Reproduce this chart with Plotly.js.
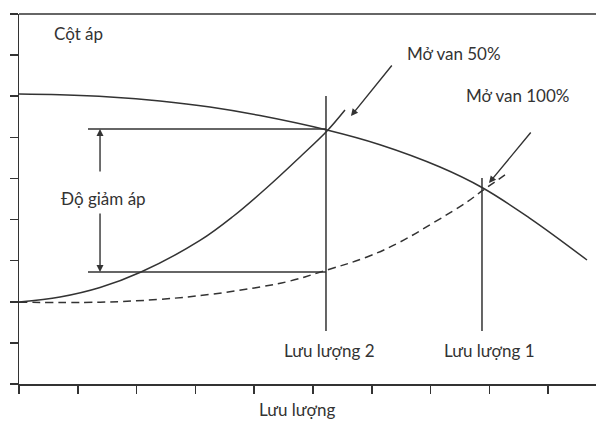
<!DOCTYPE html>
<html>
<head>
<meta charset="utf-8">
<script src="https://cdn.plot.ly/plotly-3.0.1.min.js"></script>
<style>html,body{margin:0;padding:0;background:#fff;overflow:hidden}#chart{width:596px;height:422px}</style>
</head>
<body>
<div id="chart"></div>
<script>
// Pump curve (head vs flow)
const pumpX = [0, 0.697, 1.548, 2.398, 3.248, 4.099, 5.238, 6.139, 7.160, 7.874, 8.690, 9.660];
const pumpY = [7.054, 7.035, 6.981, 6.884, 6.738, 6.530, 6.178, 5.820, 5.278, 4.780, 4.030, 3.016];
// System curve, valve 50% open
const valve50X = [0, 0.697, 1.378, 2.075, 3.078, 3.639, 4.218, 4.779, 5.238, 5.544];
const valve50Y = [1.995, 2.116, 2.347, 2.724, 3.491, 4.074, 4.780, 5.522, 6.154, 6.665];
// System curve, valve 100% open
const valve100X = [0, 1.378, 2.398, 3.248, 4.099, 4.609, 5.238, 5.918, 6.480, 7.041, 7.619, 7.874, 8.265];
const valve100Y = [1.990, 1.990, 2.060, 2.180, 2.360, 2.505, 2.773, 3.089, 3.454, 3.916, 4.427, 4.695, 5.084];
// Operating points
const flow2 = 5.221, flow1 = 7.874;
const headHigh = 6.203, headLow = 2.724;
// Tick positions
const xTicks = [0,1,2,3,4,5,6,7,8,9];
const yTicks = [0,1,2,3,4,5,6,7,8,9];
// Labels
const yLabel = "Cột áp";
const xLabel = "Lưu lượng";
const label50 = "Mở van 50%";
const label100 = "Mở van 100%";
const labelFlow2 = "Lưu lượng 2";
const labelFlow1 = "Lưu lượng 1";
const labelDrop = "Độ giảm áp";

const C = '#333333';
const F = {family: 'Lato, sans-serif', size: 17, color: '#333333'};

const traces = [
  {x: pumpX, y: pumpY, mode: 'lines', line: {color: C, width: 1.5, shape: 'spline', smoothing: 1.1}, hoverinfo: 'skip'},
  {x: valve50X, y: valve50Y, mode: 'lines', line: {color: C, width: 1.5, shape: 'spline', smoothing: 1}, hoverinfo: 'skip'},
  {x: valve100X, y: valve100Y, mode: 'lines', line: {color: C, width: 1.5, dash: '8px,5px', shape: 'spline', smoothing: 1.1}, hoverinfo: 'skip'}
];

const ln = {color: C, width: 1.5};
const shapes = [
  {type: 'line', xref: 'paper', yref: 'paper', x0: 0, x1: 1, y0: 1, y1: 1, line: ln},
  {type: 'line', xref: 'x', yref: 'y', x0: flow2, x1: flow2, y0: 1.289, y1: 7.006, line: ln},
  {type: 'line', xref: 'x', yref: 'y', x0: flow1, x1: flow1, y0: 1.289, y1: 5.011, line: ln},
  {type: 'line', xref: 'x', yref: 'y', x0: 1.173, x1: flow2, y0: headHigh, y1: headHigh, line: ln},
  {type: 'line', xref: 'x', yref: 'y', x0: 1.173, x1: flow2, y0: headLow, y1: headLow, line: ln}
];

function arrow(x, y, ax, ay) {
  return {x: x, y: y, ax: ax, ay: ay, xref: 'x', yref: 'y', axref: 'x', ayref: 'y', text: '', showarrow: true,
          arrowhead: 2, arrowsize: 1, arrowwidth: 1.4, arrowcolor: C, standoff: 0, startstandoff: 0};
}
function label(t, x, y) {
  return {x: x, y: y, xref: 'x', yref: 'y', text: t, showarrow: false, font: F, xanchor: 'center', yanchor: 'middle'};
}

const annotations = [
  label(yLabel, 1.02, 8.514),
  label(label50, 7.398, 8.051),
  label(label100, 8.486, 7.006),
  label(labelFlow2, 5.289, 0.803),
  label(labelFlow1, 8.010, 0.803),
  label(labelDrop, 1.429, 4.524),
  {x: 4.730, y: -0.068, xref: 'x', yref: 'paper', text: xLabel, showarrow: false, font: F, xanchor: 'center', yanchor: 'middle'},
  arrow(5.646, 6.519, 6.361, 7.784),
  arrow(7.993, 4.889, 8.724, 6.154),
  arrow(1.378, headHigh, 1.378, 5.133),
  arrow(1.378, headLow, 1.378, 4.184)
];

const layout = {
  width: 596, height: 422,
  margin: {l: 19, r: 0, t: 14, b: 38, pad: 0},
  paper_bgcolor: '#ffffff', plot_bgcolor: '#ffffff',
  showlegend: false,
  xaxis: {range: [0, 9.813], tickvals: xTicks, showticklabels: false, ticks: 'outside', ticklen: 8, tickwidth: 1.5, tickcolor: C,
          showline: true, linecolor: C, linewidth: 1.5, showgrid: false, zeroline: false, fixedrange: true},
  yaxis: {range: [0, 9], tickvals: yTicks, showticklabels: false, ticks: 'outside', ticklen: 8, tickwidth: 1.5, tickcolor: C,
          showline: true, linecolor: C, linewidth: 1.5, showgrid: false, zeroline: false, fixedrange: true},
  shapes: shapes,
  annotations: annotations
};

Plotly.newPlot('chart', traces, layout, {staticPlot: true, displayModeBar: false});
</script>
</body>
</html>
